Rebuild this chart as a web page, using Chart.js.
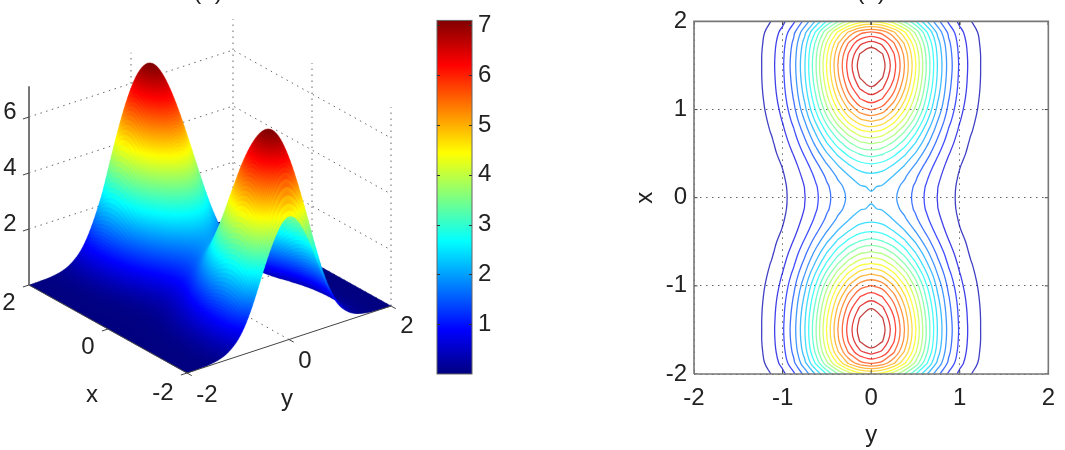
<!DOCTYPE html>
<html>
<head>
<meta charset="utf-8">
<title>Surface and contours</title>
<script src="https://cdn.jsdelivr.net/npm/chart.js@4"></script>
<style>
  html, body { margin: 0; background: #fff; overflow: hidden; }
  canvas { position: absolute; top: 0; }
  #surface { left: 0; }
  #colorbar { left: 430px; }
  #contours { left: 620px; }
</style>
</head>
<body>
<canvas id="surface" width="420" height="450"></canvas>
<canvas id="colorbar" width="90" height="450"></canvas>
<canvas id="contours" width="445" height="450"></canvas>
<script>
// grid positions for one quadrant, x >= 0 and y >= 0
var quadrantSteps = [0, 0.125, 0.25, 0.375, 0.5, 0.625, 0.75, 0.875, 1, 1.125, 1.25, 1.375, 1.5, 1.625, 1.75, 1.875, 2];

// height per row (x) and column (y), the other quadrants are mirror images
var heightQuadrant = [
  [2.00, 1.94, 1.77, 1.54, 1.26, 0.95, 0.67, 0.44, 0.27, 0.16, 0.09, 0.05, 0.02, 0.01, 0, 0, 0],
  [2.07, 2.01, 1.84, 1.59, 1.30, 0.98, 0.69, 0.45, 0.28, 0.17, 0.09, 0.05, 0.02, 0.01, 0, 0, 0],
  [2.30, 2.23, 2.04, 1.77, 1.44, 1.09, 0.77, 0.50, 0.31, 0.18, 0.10, 0.05, 0.03, 0.01, 0, 0, 0],
  [2.68, 2.60, 2.38, 2.06, 1.68, 1.27, 0.89, 0.58, 0.36, 0.21, 0.12, 0.06, 0.03, 0.01, 0.01, 0, 0],
  [3.20, 3.10, 2.84, 2.46, 2.01, 1.52, 1.07, 0.70, 0.43, 0.26, 0.14, 0.07, 0.04, 0.02, 0.01, 0, 0],
  [3.80, 3.69, 3.37, 2.92, 2.39, 1.81, 1.27, 0.83, 0.51, 0.30, 0.17, 0.09, 0.04, 0.02, 0.01, 0, 0],
  [4.45, 4.32, 3.95, 3.42, 2.79, 2.11, 1.48, 0.97, 0.60, 0.36, 0.20, 0.10, 0.05, 0.02, 0.01, 0, 0],
  [5.15, 5.00, 4.57, 3.96, 3.23, 2.45, 1.71, 1.12, 0.70, 0.41, 0.23, 0.12, 0.06, 0.03, 0.01, 0.01, 0],
  [5.80, 5.63, 5.14, 4.45, 3.64, 2.76, 1.93, 1.26, 0.78, 0.46, 0.26, 0.13, 0.06, 0.03, 0.01, 0.01, 0],
  [6.32, 6.13, 5.61, 4.85, 3.97, 3.00, 2.10, 1.38, 0.85, 0.51, 0.28, 0.15, 0.07, 0.03, 0.01, 0.01, 0],
  [6.72, 6.52, 5.96, 5.16, 4.22, 3.19, 2.24, 1.46, 0.91, 0.54, 0.30, 0.15, 0.07, 0.03, 0.01, 0.01, 0],
  [6.99, 6.78, 6.20, 5.37, 4.39, 3.32, 2.33, 1.52, 0.94, 0.56, 0.31, 0.16, 0.08, 0.03, 0.01, 0.01, 0],
  [7.10, 6.89, 6.30, 5.45, 4.46, 3.37, 2.36, 1.55, 0.96, 0.57, 0.31, 0.16, 0.08, 0.04, 0.01, 0.01, 0],
  [6.98, 6.77, 6.19, 5.36, 4.38, 3.32, 2.32, 1.52, 0.94, 0.56, 0.31, 0.16, 0.08, 0.03, 0.01, 0.01, 0],
  [6.60, 6.40, 5.85, 5.07, 4.14, 3.14, 2.20, 1.44, 0.89, 0.53, 0.29, 0.15, 0.07, 0.03, 0.01, 0.01, 0],
  [5.85, 5.67, 5.19, 4.49, 3.67, 2.78, 1.95, 1.28, 0.79, 0.47, 0.26, 0.13, 0.06, 0.03, 0.01, 0.01, 0],
  [4.40, 4.27, 3.90, 3.38, 2.76, 2.09, 1.47, 0.96, 0.59, 0.35, 0.19, 0.10, 0.05, 0.02, 0.01, 0, 0]
];

var contourLevels = [0.34, 0.68, 1.02, 1.36, 1.70, 2.04, 2.38, 2.72, 3.06, 3.40, 3.74, 4.08, 4.42, 4.76, 5.10, 5.44, 5.78, 6.12, 6.46, 6.74];
var colorTicks = [1, 2, 3, 4, 5, 6, 7];
var xTicks3d = [2, 0, -2];
var yTicks3d = [-2, 0, 2];
var zTicks3d = [2, 4, 6];
var planeTicks = [-2, -1, 0, 1, 2];
var zLow = 0;
var zHigh = 7.1;

var fontFamily = '"Liberation Sans", Arial, sans-serif';
var fontSize = 24;
var textColor = '#222';

// jet colormap
var jetStops = [
  [0, 0, 0, 128], [0.125, 0, 0, 255], [0.375, 0, 255, 255],
  [0.625, 255, 255, 0], [0.875, 255, 0, 0], [1, 128, 0, 0]
];

function jet(z, alpha) {
  var t = Math.min(1, Math.max(0, (z - zLow) / (zHigh - zLow)));
  var r = 128, g = 0, b = 0;
  for (var i = 1; i < jetStops.length; i++) {
    if (t <= jetStops[i][0]) {
      var p = jetStops[i - 1], q = jetStops[i];
      var f = (t - p[0]) / (q[0] - p[0]);
      r = Math.round(p[1] + (q[1] - p[1]) * f);
      g = Math.round(p[2] + (q[2] - p[2]) * f);
      b = Math.round(p[3] + (q[3] - p[3]) * f);
      break;
    }
  }
  return 'rgba(' + r + ',' + g + ',' + b + ',' + (alpha === undefined ? 1 : alpha) + ')';
}

// mirror the quadrant out to the full -2..2 grid
var gridSteps = quadrantSteps.slice(1).reverse().map(function (v) { return -v; }).concat(quadrantSteps);
var last = quadrantSteps.length - 1;
var heights = gridSteps.map(function (_, i) {
  return gridSteps.map(function (_, j) {
    return heightQuadrant[Math.abs(i - last)][Math.abs(j - last)];
  });
});

// oblique view used by the left panel
function viewPoint(x, y, z) {
  return { x: -39.5 * x + 51 * y, y: 22 * x + 16.75 * y + 28 * z };
}

function pieces3d(list) {
  var out = [];
  list.forEach(function (line) {
    line.forEach(function (p) { out.push(viewPoint(p[0], p[1], p[2])); });
    out.push({ x: NaN, y: NaN });
  });
  return out;
}

var wallLines = [];
zTicks3d.forEach(function (z) {
  wallLines.push([[2, -2, z], [2, 2, z], [-2, 2, z]]);
});
yTicks3d.forEach(function (y) {
  if (y > -2) wallLines.push([[2, y, 0], [2, y, zHigh]]);
});
xTicks3d.forEach(function (x) {
  if (x < 2) wallLines.push([[x, 2, 0], [x, 2, zHigh]]);
});
wallLines.push([[2, -2, 0], [2, 2, 0], [-2, 2, 0]]);
wallLines.push([[-2, 0, 0], [2, 0, 0]]);
wallLines.push([[0, -2, 0], [0, 2, 0]]);

var edgeLines = [[[2, -2, 0], [-2, -2, 0], [-2, 2, 0]]];
xTicks3d.forEach(function (x) { edgeLines.push([[x, -2, 0], [x, -2.12, 0]]); });
yTicks3d.forEach(function (y) { edgeLines.push([[-2, y, 0], [-2.12, y, 0]]); });
zTicks3d.forEach(function (z) { edgeLines.push([[2, -2, z], [2, -2.12, z]]); });

var surfacePoints = [];
gridSteps.forEach(function (x, i) {
  gridSteps.forEach(function (y, j) {
    surfacePoints.push(viewPoint(x, y, heights[i][j]));
  });
});

// tick labels of the left panel, offset from the tick position
var labels3d = [];
xTicks3d.forEach(function (x) {
  labels3d.push({ text: String(x), at: viewPoint(x, -2, 0), dx: x < 0 ? -24 : -20, dy: x < 0 ? 20 : 18 });
});
yTicks3d.forEach(function (y) {
  labels3d.push({ text: String(y), at: viewPoint(-2, y, 0), dx: y < 0 ? 20 : 16, dy: y > 0 ? 20 : 22 });
});
zTicks3d.forEach(function (z) {
  labels3d.push({ text: String(z), at: viewPoint(2, -2, z), dx: -19, dy: -5 });
});
labels3d.push({ text: 'x', at: viewPoint(0, -2, 0), dx: -16, dy: 66 });
labels3d.push({ text: 'y', at: viewPoint(-2, 0, 0), dx: -2, dy: 60 });

// Catmull-Rom blend used only while shading, so the mesh paints without facets
function blend(a, b, c, d, t) {
  return b + 0.5 * t * (c - a + t * (2 * a - 5 * b + 4 * c - d + t * (3 * (b - c) + d - a)));
}

function smoothHeight(i, j, u, v) {
  var n = gridSteps.length - 1;
  function at(r, s) {
    return heights[Math.max(0, Math.min(n, r))][Math.max(0, Math.min(n, s))];
  }
  var rows = [-1, 0, 1, 2].map(function (d) {
    return blend(at(i + d, j - 1), at(i + d, j), at(i + d, j + 1), at(i + d, j + 2), v);
  });
  return Math.max(0, blend(rows[0], rows[1], rows[2], rows[3], u));
}

// paints the mesh back to front on a larger buffer, then scales it down
var surfacePaint = {
  id: 'surfacePaint',
  afterDatasetDraw: function (chart, args) {
    if (chart.data.datasets[args.index].label !== 'surface') return;
    var pts = args.meta.data;
    var n = gridSteps.length;
    var sub = 6;
    var fine = (n - 1) * sub + 1;
    var pxPerZ = chart.scales.y.getPixelForValue(0) - chart.scales.y.getPixelForValue(viewPoint(0, 0, 1).y);
    var fx = [], fy = [], fz = [];
    for (var a = 0; a < fine; a++) {
      fx.push([]); fy.push([]); fz.push([]);
      var i = Math.min(n - 2, Math.floor(a / sub)), u = a / sub - i;
      for (var b = 0; b < fine; b++) {
        var j = Math.min(n - 2, Math.floor(b / sub)), v = b / sub - j;
        var p00 = pts[i * n + j], p01 = pts[i * n + j + 1], p10 = pts[(i + 1) * n + j], p11 = pts[(i + 1) * n + j + 1];
        var px = (1 - u) * ((1 - v) * p00.x + v * p01.x) + u * ((1 - v) * p10.x + v * p11.x);
        var py = (1 - u) * ((1 - v) * p00.y + v * p01.y) + u * ((1 - v) * p10.y + v * p11.y);
        var flat = (1 - u) * ((1 - v) * heights[i][j] + v * heights[i][j + 1]) + u * ((1 - v) * heights[i + 1][j] + v * heights[i + 1][j + 1]);
        var z = smoothHeight(i, j, u, v);
        fx[a].push(px);
        fy[a].push(py - (z - flat) * pxPerZ);
        fz[a].push(z);
      }
    }
    var factor = 3;
    var buffer = document.createElement('canvas');
    buffer.width = chart.width * factor;
    buffer.height = chart.height * factor;
    var c = buffer.getContext('2d');
    c.scale(factor, factor);
    c.lineWidth = 0.4;
    c.lineJoin = 'round';
    for (var r = fine - 2; r >= 0; r--) {
      for (var s = fine - 2; s >= 0; s--) {
        var col = jet((fz[r][s] + fz[r][s + 1] + fz[r + 1][s] + fz[r + 1][s + 1]) / 4);
        c.fillStyle = col;
        c.strokeStyle = col;
        c.beginPath();
        c.moveTo(fx[r][s], fy[r][s]);
        c.lineTo(fx[r][s + 1], fy[r][s + 1]);
        c.lineTo(fx[r + 1][s + 1], fy[r + 1][s + 1]);
        c.lineTo(fx[r + 1][s], fy[r + 1][s]);
        c.closePath();
        c.fill();
        c.stroke();
      }
    }
    chart.ctx.save();
    chart.ctx.imageSmoothingQuality = 'high';
    chart.ctx.drawImage(buffer, 0, 0, chart.width, chart.height);
    chart.ctx.restore();
  },
  afterDraw: function (chart) {
    var c = chart.ctx;
    c.save();
    c.font = fontSize + 'px ' + fontFamily;
    c.fillStyle = textColor;
    c.textAlign = 'center';
    c.textBaseline = 'middle';
    labels3d.forEach(function (l) {
      c.fillText(l.text, chart.scales.x.getPixelForValue(l.at.x) + l.dx, chart.scales.y.getPixelForValue(l.at.y) + l.dy);
    });
    c.textBaseline = 'alphabetic';
    c.fillText('(a)', 208, -1);
    c.restore();
  }
};

new Chart(document.getElementById('surface'), {
  type: 'scatter',
  data: {
    datasets: [
      { label: 'edges', data: pieces3d(edgeLines), showLine: true, pointRadius: 0, borderColor: '#444', borderWidth: 1 },
      { label: 'z axis', data: pieces3d([[[2, -2, 0], [2, -2, zHigh]]]), showLine: true, pointRadius: 0, borderColor: '#777', borderWidth: 2 },
      { label: 'surface', data: surfacePoints, showLine: false, pointRadius: 0 },
      { label: 'walls', data: pieces3d(wallLines), showLine: true, pointRadius: 0, borderColor: '#666', borderWidth: 1, borderDash: [1.5, 4.5] }
    ]
  },
  options: {
    responsive: false,
    animation: false,
    plugins: { legend: { display: false }, tooltip: { enabled: false } },
    scales: {
      x: { display: false, min: -210, max: 210 },
      y: { display: false, min: -154.5, max: 295.5 }
    }
  },
  plugins: [surfacePaint]
});

// colour bar with short inward ticks on both sides
var colorbarMarks = {
  id: 'colorbarMarks',
  afterDatasetsDraw: function (chart) {
    var c = chart.ctx, area = chart.chartArea, s = chart.scales.y;
    c.save();
    c.strokeStyle = '#666';
    c.lineWidth = 1;
    c.strokeRect(area.left, area.top, area.right - area.left, area.bottom - area.top);
    c.strokeStyle = '#333';
    colorTicks.forEach(function (v) {
      var py = Math.round(s.getPixelForValue(v)) + 0.5;
      c.beginPath();
      c.moveTo(area.left, py); c.lineTo(area.left + 3, py);
      c.moveTo(area.right - 3, py); c.lineTo(area.right, py);
      c.stroke();
    });
    c.restore();
  }
};

new Chart(document.getElementById('colorbar'), {
  type: 'bar',
  data: {
    labels: ['z'],
    datasets: [{
      data: [[zLow, zHigh]],
      barPercentage: 1,
      categoryPercentage: 1,
      backgroundColor: function (ctx) {
        var area = ctx.chart.chartArea;
        if (!area) return '#000';
        var g = ctx.chart.ctx.createLinearGradient(0, area.bottom, 0, area.top);
        jetStops.forEach(function (s) {
          g.addColorStop(s[0], 'rgb(' + s[1] + ',' + s[2] + ',' + s[3] + ')');
        });
        return g;
      }
    }]
  },
  options: {
    responsive: false,
    animation: false,
    layout: { padding: { left: 7, top: 20, bottom: 76 } },
    plugins: { legend: { display: false }, tooltip: { enabled: false } },
    scales: {
      x: { display: false },
      y: {
        position: 'right',
        min: zLow,
        max: zHigh,
        afterBuildTicks: function (s) { s.ticks = colorTicks.map(function (v) { return { value: v }; }); },
        afterFit: function (s) { s.width = 48; },
        grid: { display: false, drawTicks: false },
        border: { display: false },
        ticks: { padding: 6, color: textColor, font: { family: fontFamily, size: fontSize } }
      }
    }
  },
  plugins: [colorbarMarks]
});

// marching squares over the height grid, y runs across and x runs up;
// the pieces are chained into whole lines so each can be drawn as one curve
function contourLines(level) {
  var segs = [];
  function cross(ia, ja, ib, jb, key) {
    var za = heights[ia][ja], zb = heights[ib][jb];
    if ((za >= level) === (zb >= level)) return null;
    var f = (level - za) / (zb - za);
    return {
      key: key,
      x: gridSteps[ja] + (gridSteps[jb] - gridSteps[ja]) * f,
      y: gridSteps[ia] + (gridSteps[ib] - gridSteps[ia]) * f
    };
  }
  for (var i = 0; i < gridSteps.length - 1; i++) {
    for (var j = 0; j < gridSteps.length - 1; j++) {
      var hits = [
        cross(i, j, i, j + 1, 'h' + i + '_' + j),
        cross(i, j + 1, i + 1, j + 1, 'v' + i + '_' + (j + 1)),
        cross(i + 1, j + 1, i + 1, j, 'h' + (i + 1) + '_' + j),
        cross(i + 1, j, i, j, 'v' + i + '_' + j)
      ].filter(function (p) { return p; });
      for (var k = 0; k + 1 < hits.length; k += 2) segs.push([hits[k], hits[k + 1]]);
    }
  }
  var byKey = {};
  segs.forEach(function (s, idx) {
    s.forEach(function (p) { (byKey[p.key] = byKey[p.key] || []).push(idx); });
  });
  var used = [];
  var lines = [];
  function trace(idx, from) {
    var line = [segs[idx][from]];
    while (idx !== undefined) {
      used[idx] = true;
      var p = segs[idx][1 - from];
      line.push(p);
      idx = byKey[p.key].filter(function (m) { return !used[m]; })[0];
      if (idx !== undefined) from = segs[idx][0].key === p.key ? 0 : 1;
    }
    lines.push(line.map(function (p) { return { x: p.x, y: p.y }; }));
  }
  // open lines start on the border, then the closed loops
  Object.keys(byKey).forEach(function (key) {
    var list = byKey[key];
    if (list.length === 1 && !used[list[0]]) {
      trace(list[0], segs[list[0]][0].key === key ? 0 : 1);
    }
  });
  segs.forEach(function (s, idx) {
    if (!used[idx]) trace(idx, 0);
  });
  return lines;
}

var contourSets = [];
contourLevels.forEach(function (level) {
  contourLines(level).forEach(function (line) {
    contourSets.push({
      label: String(level),
      data: line,
      showLine: true,
      pointRadius: 0,
      borderColor: jet(level, 0.75),
      borderWidth: 1.3,
      tension: 0.4
    });
  });
});

var inwardTicks = [];
planeTicks.forEach(function (v) {
  inwardTicks.push({ x: v, y: -2 }, { x: v, y: -1.96 }, { x: NaN, y: NaN });
  inwardTicks.push({ x: v, y: 2 }, { x: v, y: 1.96 }, { x: NaN, y: NaN });
  inwardTicks.push({ x: -2, y: v }, { x: -1.96, y: v }, { x: NaN, y: NaN });
  inwardTicks.push({ x: 2, y: v }, { x: 1.96, y: v }, { x: NaN, y: NaN });
});

var panelTitle = {
  id: 'panelTitle',
  afterDraw: function (chart) {
    var c = chart.ctx;
    c.save();
    c.font = fontSize + 'px ' + fontFamily;
    c.fillStyle = textColor;
    c.textAlign = 'center';
    c.fillText('(b)', chart.scales.x.getPixelForValue(0), -1);
    c.restore();
  }
};

var planeAxis = function (title, titlePad, tickPad) {
  return {
    min: -2,
    max: 2,
    title: { display: true, text: title, color: textColor, padding: titlePad, font: { family: fontFamily, size: fontSize } },
    grid: { color: '#666', drawTicks: false, tickLength: 0 },
    border: { display: false, dash: [1.5, 4.5] },
    ticks: { stepSize: 1, padding: tickPad, color: textColor, font: { family: fontFamily, size: fontSize } }
  };
};

var yPlaneAxis = planeAxis('y', { top: 15, bottom: 0 }, 10);
yPlaneAxis.afterFit = function (s) { s.height = 76; };
var xPlaneAxis = planeAxis('x', { top: 11, bottom: 0 }, 7);
xPlaneAxis.afterFit = function (s) { s.width = 74; };

new Chart(document.getElementById('contours'), {
  type: 'scatter',
  data: {
    datasets: [
      { label: 'box', data: [{ x: -2, y: -2 }, { x: -2, y: 2 }, { x: 2, y: 2 }, { x: 2, y: -2 }, { x: -2, y: -2 }], showLine: true, pointRadius: 0, borderColor: '#777', borderWidth: 1.6, clip: false },
      { label: 'ticks', data: inwardTicks, showLine: true, pointRadius: 0, borderColor: '#444', borderWidth: 1 }
    ].concat(contourSets)
  },
  options: {
    responsive: false,
    animation: false,
    layout: { padding: { top: 20, right: 16 } },
    plugins: { legend: { display: false }, tooltip: { enabled: false } },
    scales: { x: yPlaneAxis, y: xPlaneAxis }
  },
  plugins: [panelTitle]
});
</script>
</body>
</html>
